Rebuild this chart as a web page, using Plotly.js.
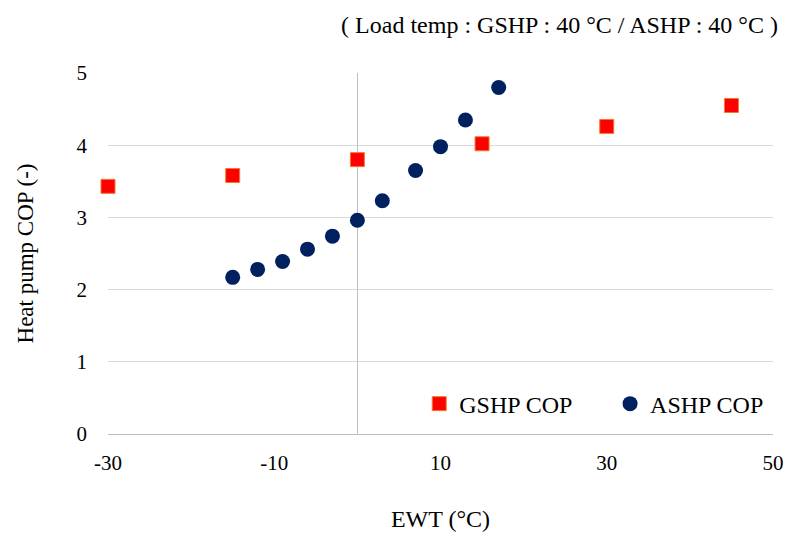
<!DOCTYPE html>
<html>
<head>
<meta charset="utf-8">
<script src="https://cdn.plot.ly/plotly-3.0.1.min.js"></script>
<style>html,body{margin:0;padding:0;background:#fff}#chart{width:812px;height:548px}</style>
</head>
<body>
<div id="chart"></div>
<script>
const gshpEWT = [-30, -15, 0, 15, 30, 45];
const gshpCOP = [3.43, 3.58, 3.80, 4.02, 4.26, 4.55];
const ashpEWT = [-15, -12, -9, -6, -3, 0, 3, 7, 10, 13, 17];
const ashpCOP = [2.17, 2.28, 2.39, 2.56, 2.74, 2.96, 3.23, 3.65, 3.98, 4.35, 4.80];
const xTicks = [-30, -10, 10, 30, 50];
const yTicks = [0, 1, 2, 3, 4, 5];

const font = 'Liberation Serif, Times New Roman, serif';

const traces = [
  {x: gshpEWT, y: gshpCOP, name: 'GSHP COP', type: 'scatter', mode: 'markers', cliponaxis: false, legend: 'legend',
   marker: {symbol: 'square', size: 14, color: '#FF0000', line: {color: '#ED7D31', width: 1}}},
  {x: ashpEWT, y: ashpCOP, name: 'ASHP COP', type: 'scatter', mode: 'markers', cliponaxis: false, legend: 'legend2',
   marker: {symbol: 'circle', size: 15, color: '#002060', line: {width: 0}}}
];

const legendBase = {orientation: 'h', yanchor: 'middle', y: 0.083, bgcolor: 'rgba(0,0,0,0)', font: {size: 24}, itemwidth: 30};

const layout = {
  width: 812, height: 548,
  margin: {l: 108, r: 39, t: 73, b: 114},
  paper_bgcolor: '#fff', plot_bgcolor: '#fff',
  font: {family: font, color: '#000', size: 21},
  title: {text: '( Load temp : GSHP : 40 °C / ASHP : 40 °C )', font: {family: font, size: 24, color: '#000'},
          xref: 'container', yref: 'container', x: 0.958, xanchor: 'right', y: 1 - 25/548, yanchor: 'middle'},
  xaxis: {range: [-30, 50], tickvals: xTicks, ticktext: xTicks.map(String), showgrid: false,
          zeroline: true, zerolinecolor: '#BFBFBF', zerolinewidth: 1, showline: false, ticks: '',
          ticklabelstandoff: 14, tickfont: {size: 21},
          title: {text: 'EWT (°C)', font: {size: 24}, standoff: 36}},
  yaxis: {range: [0, 5], tickvals: yTicks, ticktext: yTicks.map(String), showgrid: true, gridcolor: '#D9D9D9', gridwidth: 1,
          zeroline: true, zerolinecolor: '#BFBFBF', zerolinewidth: 1, showline: false, ticks: '',
          ticklabelstandoff: 20, tickfont: {size: 21},
          title: {text: 'Heat pump COP (-)', font: {size: 23}, standoff: 36}},
  showlegend: true,
  legend: Object.assign({}, legendBase, {x: 0.468, xanchor: 'left'}),
  legend2: Object.assign({}, legendBase, {x: 0.755, xanchor: 'left'})
};

Plotly.newPlot('chart', traces, layout, {displayModeBar: false, staticPlot: true});
</script>
</body>
</html>
